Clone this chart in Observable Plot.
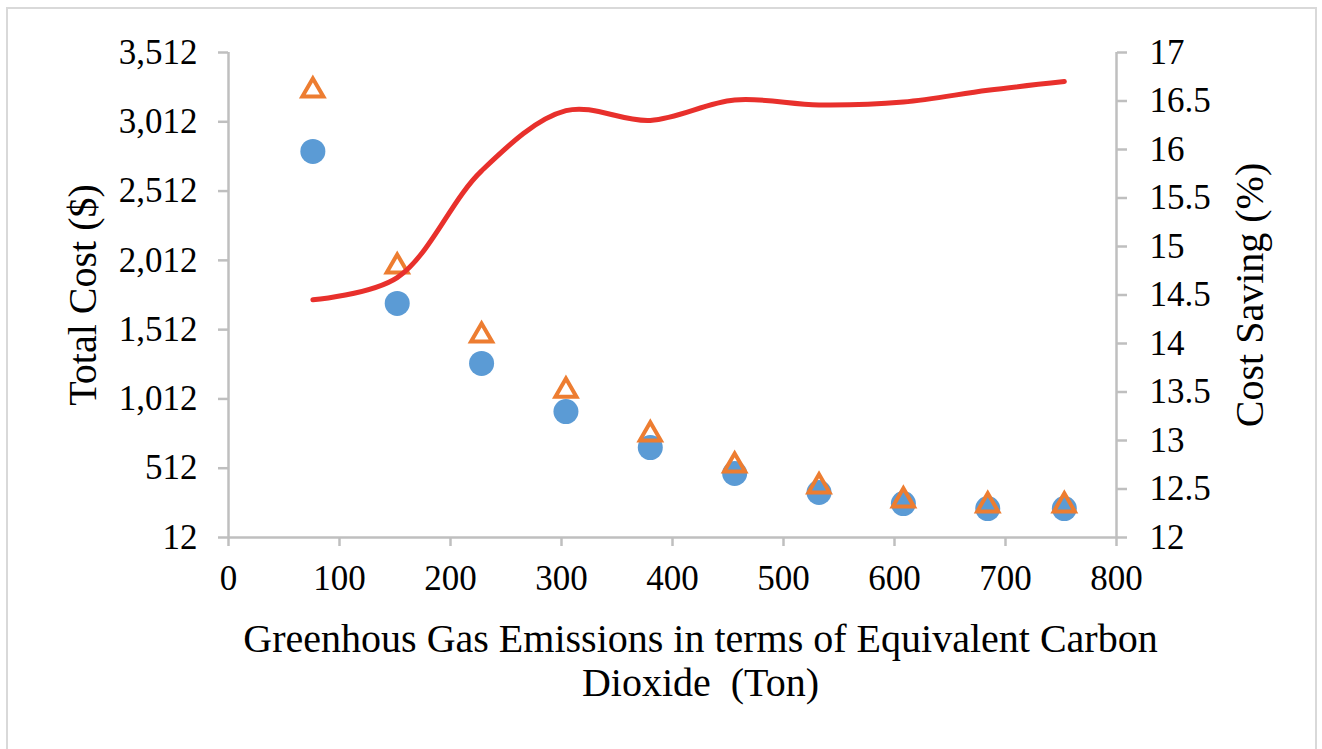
<!DOCTYPE html>
<html><head><meta charset="utf-8">
<script src="https://cdn.jsdelivr.net/npm/d3@7"></script>
<script src="https://cdn.jsdelivr.net/npm/@observablehq/plot@0.6"></script>
<style>
html,body{margin:0;padding:0;background:#fff;overflow:hidden;}
#wrap{position:relative;width:1322px;height:749px;}
#frame{position:absolute;left:6px;top:7px;width:1311px;height:770px;border:2.5px solid #d9d9d9;box-sizing:border-box;pointer-events:none;}
</style></head>
<body><div id="wrap"><div id="chart"></div><div id="frame"></div></div>
<script>
// ---- data ----
const emissions = [76, 152, 228, 304, 380, 456, 532, 608, 684, 753];
const costCircle = [2798, 1701, 1268, 921, 661, 474, 337, 257, 221, 221];
const costTriangle = [3259, 1989, 1491, 1094, 777, 553, 402, 301, 265, 265];
const costSaving = [14.45, 14.68, 15.78, 16.40, 16.30, 16.51, 16.46, 16.49, 16.61, 16.70];

const xTicks = [0, 100, 200, 300, 400, 500, 600, 700, 800];
const leftTicks = [12, 512, 1012, 1512, 2012, 2512, 3012, 3512];
const rightTicks = [12, 12.5, 13, 13.5, 14, 14.5, 15, 15.5, 16, 16.5, 17];

const xTitle = "Greenhous Gas Emissions in terms of Equivalent Carbon\nDioxide  (Ton)";
const leftTitle = "Total Cost ($)";
const rightTitle = "Cost Saving (%)";

// ---- build tables ----
const toLeft = d3.scaleLinear([12, 17], [12, 3512]);
const circles = emissions.map((x, i) => ({x, y: costCircle[i]}));
const triangles = emissions.map((x, i) => ({x, y: costTriangle[i]}));
const savings = emissions.map((x, i) => ({x, s: costSaving[i]}));

const axisColor = "#bfbfbf";

const chart = Plot.plot({
  width: 1322,
  height: 749,
  marginLeft: 228,
  marginRight: 206,
  marginTop: 52,
  marginBottom: 212,
  x: {domain: [0, 800]},
  y: {domain: [12, 3512]},
  style: {fontFamily: "'Liberation Serif', 'Times New Roman', serif", fontSize: "35px", color: "#000", background: "transparent", overflow: "visible"},
  marks: [
    Plot.ruleX([0], {stroke: axisColor, strokeWidth: 2.5}),
    Plot.ruleX([800], {stroke: axisColor, strokeWidth: 2.5}),
    Plot.ruleY([12], {stroke: axisColor, strokeWidth: 2.5}),
    Plot.axisX(xTicks, {tickSize: 9, tickPadding: 19, stroke: axisColor, strokeWidth: 2.5, fill: "#000", label: null, fontSize: 35}),
    Plot.axisY(leftTicks, {anchor: "left", tickSize: 10, tickPadding: 21, stroke: axisColor, strokeWidth: 2.5, fill: "#000", label: null, fontSize: 35, tickFormat: d3.format(",")}),
    Plot.axisY(rightTicks.map(toLeft), {anchor: "right", tickSize: 10, tickPadding: 23, stroke: axisColor, strokeWidth: 2.5, fill: "#000", label: null, fontSize: 35,
      tickFormat: d => String(Math.round(toLeft.invert(d) * 2) / 2)}),
    Plot.dot(circles, {x: "x", y: "y", r: 12.5, fill: "#5b9bd5"}),
    Plot.dot(triangles, {x: "x", y: "y", symbol: "triangle", r: 7.8, stroke: "#ed7d31", strokeWidth: 4, fill: "none", dy: 3}),
    Plot.line(savings, {x: "x", y: d => toLeft(d.s), curve: "catmull-rom", stroke: "#e8302c", strokeWidth: 5, strokeLinecap: "round"}),
    Plot.text([xTitle], {frameAnchor: "bottom", text: d => d, dx: 28, dy: 122, lineAnchor: "middle", lineHeight: 1.1, fontSize: 40, fill: "#000"}),
    Plot.text([leftTitle], {frameAnchor: "left", text: d => d, rotate: -90, dx: -145, textAnchor: "middle", lineAnchor: "middle", fontSize: 40, fill: "#000"}),
    Plot.text([rightTitle], {frameAnchor: "right", text: d => d, rotate: -90, dx: 134, textAnchor: "middle", lineAnchor: "middle", fontSize: 40, fill: "#000"})
  ]
});
document.getElementById("chart").appendChild(chart);
</script>
</body></html>
